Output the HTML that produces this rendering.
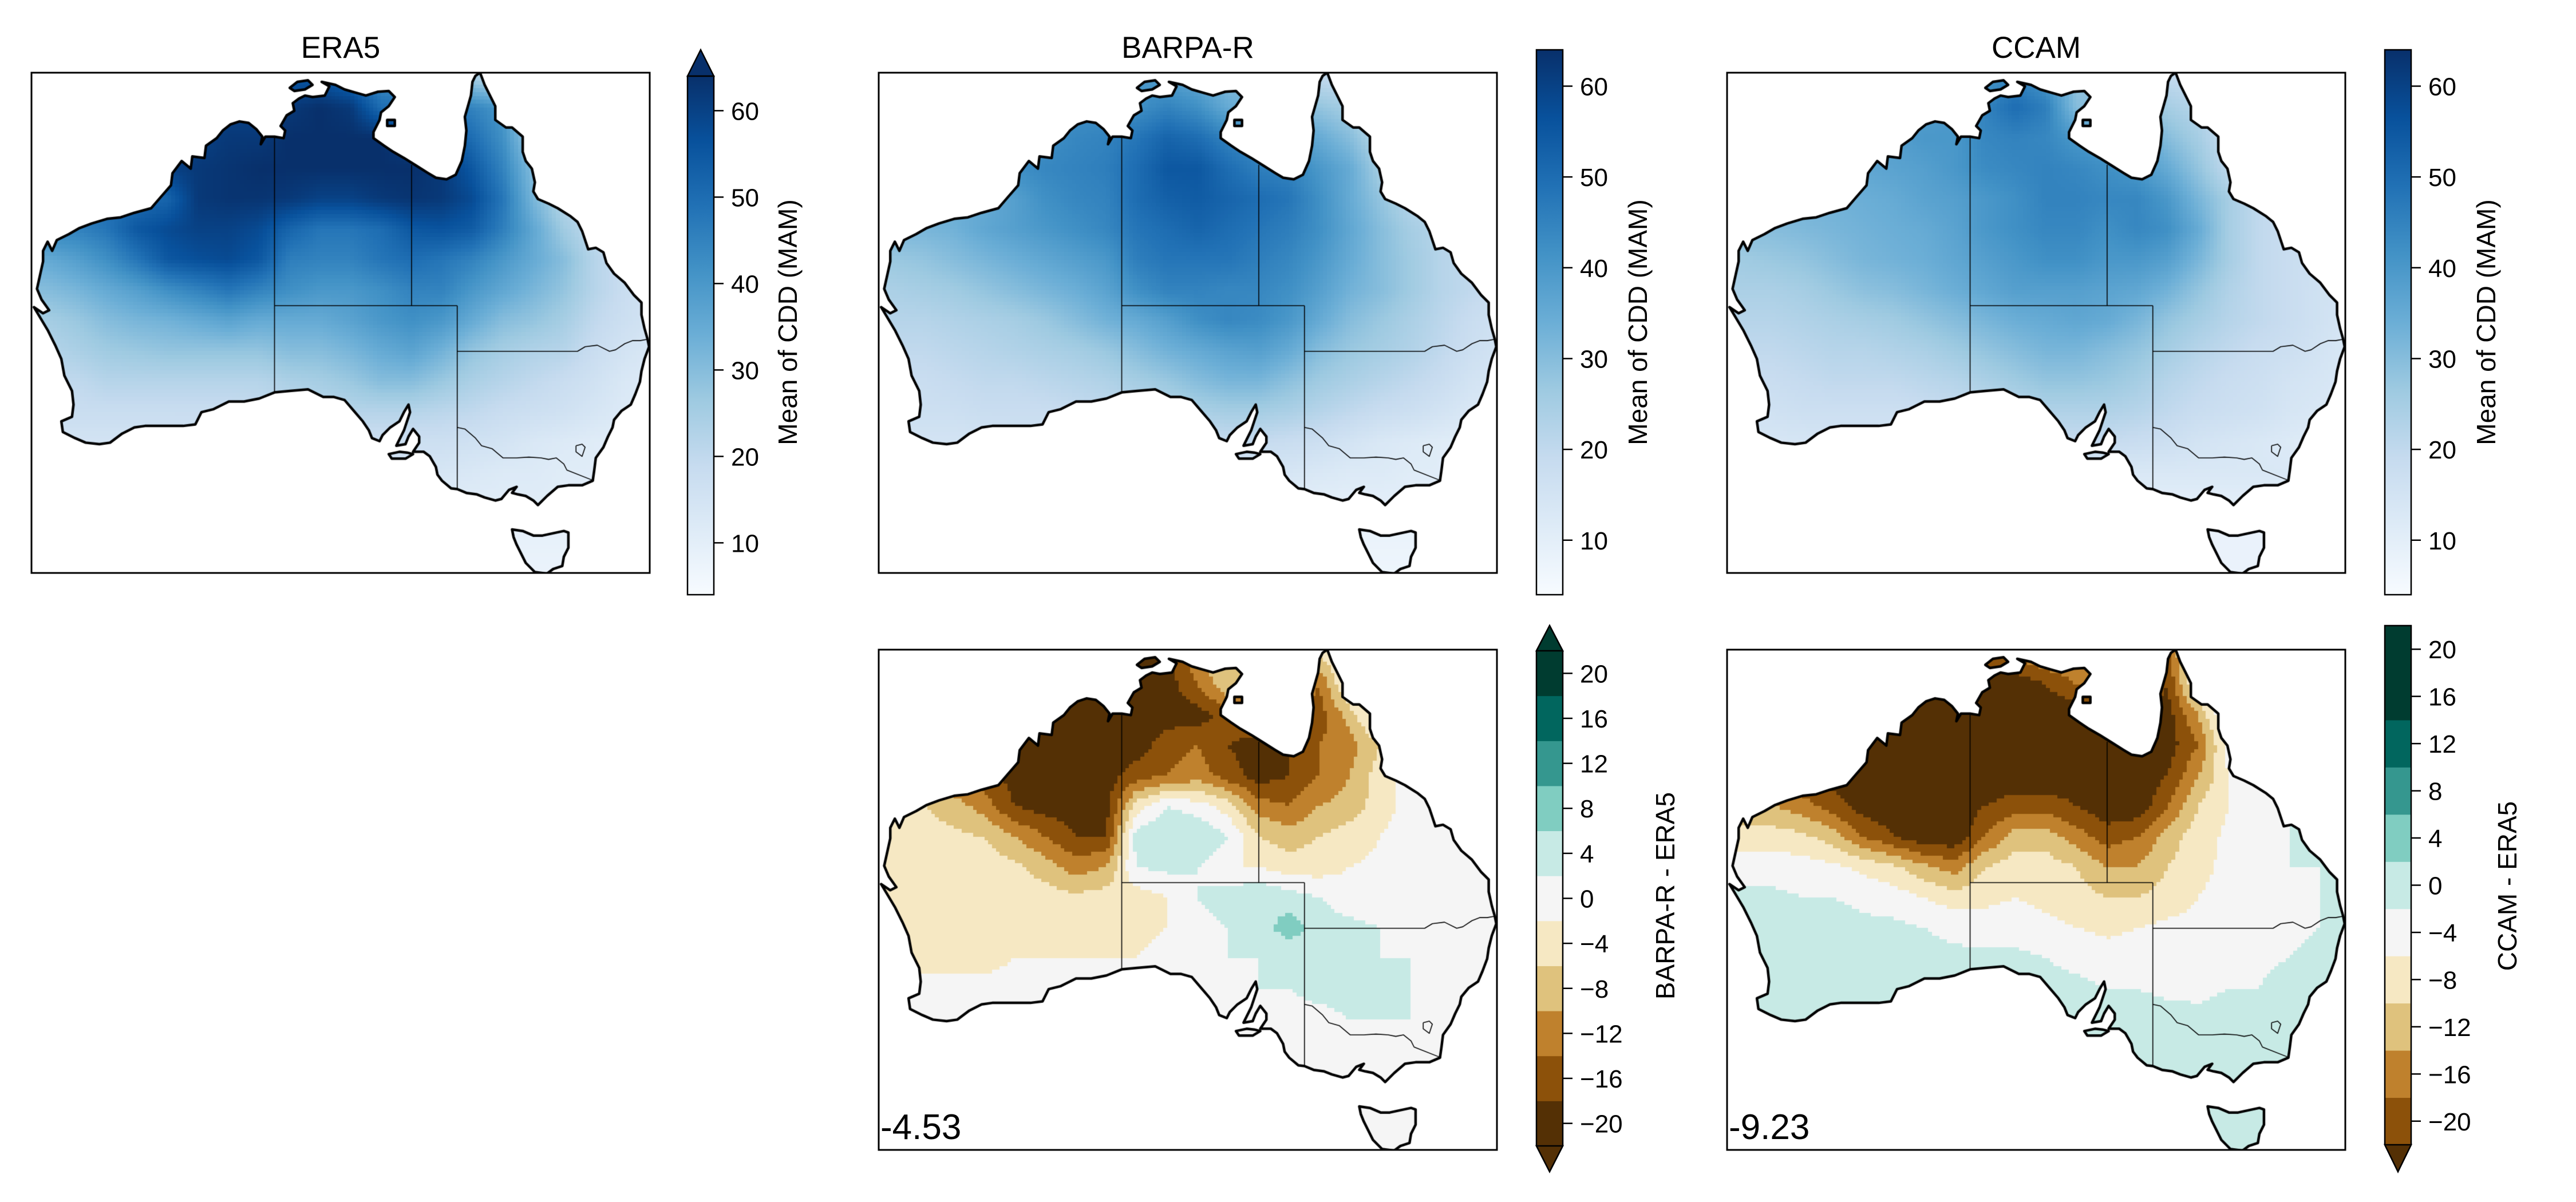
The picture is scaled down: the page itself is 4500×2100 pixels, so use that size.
<!DOCTYPE html>
<html><head><meta charset="utf-8">
<style>
html,body{margin:0;padding:0;background:#fff;}
#wrap{position:relative;width:4500px;height:2100px;overflow:hidden;font-family:"Liberation Sans","DejaVu Sans",sans-serif;}
canvas{position:absolute;}
svg{position:absolute;left:0;top:0;}
</style></head>
<body>
<div id="wrap">
<canvas id="c1" width="1080" height="874" style="left:55px;top:127px"></canvas>
<canvas id="c2" width="1080" height="874" style="left:1535px;top:127px"></canvas>
<canvas id="c3" width="1080" height="874" style="left:3017px;top:127px"></canvas>
<canvas id="c4" width="1080" height="874" style="left:1535px;top:1135px"></canvas>
<canvas id="c5" width="1080" height="874" style="left:3017px;top:1135px"></canvas>
<svg id="ov" width="4500" height="2100" viewBox="0 0 4500 2100">
<defs>
<linearGradient id="blues" x1="0" y1="1" x2="0" y2="0">
<stop offset="0" stop-color="#f7fbff"/><stop offset="0.125" stop-color="#deebf7"/><stop offset="0.25" stop-color="#c6dbef"/><stop offset="0.375" stop-color="#9ecae1"/><stop offset="0.5" stop-color="#6baed6"/><stop offset="0.625" stop-color="#4292c6"/><stop offset="0.75" stop-color="#2171b5"/><stop offset="0.875" stop-color="#08519c"/><stop offset="1" stop-color="#08306b"/>
</linearGradient>
</defs>
<g font-size="53" text-anchor="middle" fill="#000">
<text x="595" y="101">ERA5</text>
<text x="2075" y="101">BARPA-R</text>
<text x="3557" y="101">CCAM</text>
</g>
<g fill="none" stroke="#000" stroke-width="3">
<rect x="55" y="127" width="1080" height="874"/>
<rect x="1535" y="127" width="1080" height="874"/>
<rect x="3017" y="127" width="1080" height="874"/>
<rect x="1535" y="1135" width="1080" height="874"/>
<rect x="3017" y="1135" width="1080" height="874"/>
</g>
<g font-size="62" fill="#000">
<text x="1538" y="1990">-4.53</text>
<text x="3020" y="1990">-9.23</text>
</g>
<g font-size="46" text-anchor="middle" fill="#000">
<text transform="translate(1392,563) rotate(-90)">Mean of CDD (MAM)</text>
<text transform="translate(2877,563) rotate(-90)">Mean of CDD (MAM)</text>
<text transform="translate(4359,563) rotate(-90)">Mean of CDD (MAM)</text>
<text transform="translate(2925,1565) rotate(-90)">BARPA-R - ERA5</text>
<text transform="translate(4396,1548) rotate(-90)">CCAM - ERA5</text>
</g>
<g id="cbars"></g>
</svg>
</div>
<script>
// ---- grid definition (2 degree cells) ----
const lonCenters = [114,116,118,120,122,124,126,128,130,132,134,136,138,140,142,144,146,148,150,152,154];
const latCenters = [-11,-13,-15,-17,-19,-21,-23,-25,-27,-29,-31,-33,-35,-37,-39,-41,-43];
function fill(v){return Array(21).fill(v);}
const era5Grid = [
[60,60,60,60,60,60,60,60,55,55,50,42,40,40,25,18,18,18,18,18,18],
[60,60,60,60,60,60,60,60,62,64,62,50,48,45,45,40,22,18,18,18,18],
[60,60,60,60,60,60,62,62,64,64,64,64,60,55,50,42,25,18,18,18,18],
[55,55,55,55,60,62,63,64,64,64,64,64,64,62,55,45,30,20,18,18,18],
[50,50,50,50,52,62,63,63,62,60,60,62,63,62,58,48,32,22,18,18,18],
[45,45,48,55,58,60,60,58,52,48,48,50,55,56,54,46,36,26,20,18,18],
[35,38,42,48,55,57,58,55,46,45,45,48,50,48,45,40,35,30,22,18,16],
[30,32,35,38,42,45,48,45,42,40,40,42,45,45,40,36,32,28,22,18,15],
[25,27,30,32,33,35,37,35,35,35,37,40,42,40,35,30,28,25,20,17,15],
[22,24,26,27,28,28,28,28,30,30,32,35,37,33,28,25,23,22,18,15,13],
[20,20,22,22,22,22,22,22,24,25,27,30,30,27,24,22,20,18,16,13,12],
[18,18,18,18,18,18,18,19,20,21,22,22,22,21,20,18,17,16,14,12,12],
[15,15,15,15,15,16,16,17,17,17,17,17,17,17,16,15,13,12,11,11,11],
[13,13,13,13,13,13,13,13,14,14,14,14,14,14,13,12,12,11,11,11,11],
fill(11),fill(9),fill(8)];
const barpaGrid = [
[40,40,40,40,40,40,40,40,40,38,35,30,30,28,20,18,18,18,18,18,18],
[42,42,42,42,42,42,42,42,42,45,42,35,33,30,28,25,18,18,18,18,18],
[42,42,42,42,42,42,44,45,48,52,50,45,42,40,35,30,22,18,18,18,18],
[38,38,38,38,42,44,45,46,50,55,55,50,46,45,40,35,25,20,18,18,18],
[35,35,35,35,38,42,44,45,50,53,54,52,50,48,42,35,28,22,20,18,18],
[32,32,33,36,38,40,42,44,48,50,52,50,48,46,42,36,30,25,22,20,18],
[27,28,30,32,34,36,38,40,46,48,48,48,46,44,40,35,30,26,22,20,18],
[24,25,26,28,30,32,34,37,42,45,45,44,44,42,38,33,30,26,22,20,18],
[22,22,23,24,25,27,30,33,35,38,42,44,43,40,35,30,27,24,21,18,16],
[20,20,21,22,23,24,25,27,30,33,35,37,38,35,30,27,25,23,20,17,15],
[18,18,19,20,20,21,22,23,25,27,30,32,32,29,26,24,22,20,18,15,14],
[17,17,17,18,18,18,19,20,21,22,24,25,25,24,22,20,18,17,15,13,12],
[15,15,15,15,16,16,16,17,17,18,18,19,19,18,17,15,13,12,11,11,11],
[13,13,13,13,13,13,13,13,13,13,13,13,14,14,13,12,12,11,11,11,11],
fill(10),fill(8),fill(7)];
const ccamGrid = [
[35,35,35,35,35,35,35,35,40,45,40,28,25,25,20,18,18,18,18,18,18],
[38,38,38,38,38,38,38,40,45,50,46,30,30,30,25,22,18,18,18,18,18],
[38,38,38,38,38,38,40,40,44,45,44,40,38,38,30,25,18,18,18,18,18],
[35,35,35,35,36,37,38,40,43,44,45,44,42,40,35,28,20,18,18,18,18],
[33,33,33,33,34,35,37,38,40,42,45,45,44,44,40,32,25,20,18,18,18],
[30,30,31,32,33,34,35,37,40,42,44,44,42,44,42,35,25,20,18,18,18],
[26,27,28,30,32,33,34,36,38,40,42,42,40,40,38,32,25,20,18,17,16],
[24,24,25,27,29,30,32,34,36,38,38,38,37,36,33,28,23,20,18,16,15],
[22,22,23,24,25,26,28,30,32,34,35,36,35,32,28,25,22,20,18,16,14],
[20,20,21,22,22,23,24,26,28,30,32,32,30,28,25,22,20,18,17,15,13],
[18,18,19,20,20,20,21,22,24,26,28,28,27,25,22,20,18,17,15,14,13],
[16,16,17,17,17,17,18,19,20,21,23,23,23,22,20,18,17,16,14,13,12],
[14,14,14,15,15,15,16,16,17,17,18,19,19,18,17,15,14,13,12,11,11],
fill(13),fill(10),fill(8),fill(8)];
const barpaDiffGrid = [
[-20,-20,-20,-20,-20,-20,-20,-20,-20,-20,-10,-6,-6,-8,-6,2,2,0,0,0,0],
[-20,-20,-20,-20,-20,-20,-20,-20,-20,-20,-14,-6,-8,-10,-14,0,2,0,0,0,0],
[-20,-20,-20,-20,-20,-20,-20,-20,-20,-20,-20,-16,-12,-12,-16,-8,2,0,0,0,0],
[-20,-20,-20,-20,-20,-20,-20,-20,-20,-16,-14,-18,-20,-18,-14,-12,-6,0,0,0,0],
[-12,-12,-14,-16,-20,-20,-20,-20,-16,-14,-12,-16,-20,-18,-14,-10,-4,0,0,0,0],
[-6,-6,-8,-12,-18,-20,-20,-20,-4,2,0,-4,-12,-14,-10,-8,-4,0,0,0,0],
[-4,-4,-5,-6,-10,-14,-18,-18,4,6,6,2,-6,-8,-6,-4,-2,0,0,0,0],
[-4,-4,-4,-4,-5,-8,-12,-10,2,3,2,-2,-2,-4,-4,-2,-1,0,0,0,0],
[-4,-4,-4,-4,-4,-4,-5,-4,-4,-2,2,4,6,4,2,0,0,0,0,0,0],
[-3,-3,-3,-3,-3,-3,-3,-3,-3,-2,0,2,4,8,4,3,2,0,0,0,0],
[-2,-3,-3,-3,-2,-2,-2,-2,-2,-1,0,2,2,3,3,3,2,2,0,0,0],
[-1,-1,-1,-1,-1,-1,-1,-1,-1,0,0,1,2,2,3,3,3,2,1,0,0],
[0,0,0,0,0,0,0,0,0,0,0,0,0,1,1,2,2,2,1,0,0],
fill(0),fill(0),fill(0),fill(0)];
const ccamDiffGrid = [
[-25,-25,-25,-25,-25,-25,-25,-25,-20,-16,-14,-12,-12,-12,-20,0,0,-2,-2,-2,-2],
[-25,-25,-25,-25,-25,-25,-25,-25,-25,-25,-22,-18,-16,-16,-22,-4,0,-2,-2,-2,-2],
[-25,-25,-25,-25,-25,-25,-25,-25,-25,-25,-25,-25,-25,-25,-24,-14,0,-2,-2,-2,-2],
[-25,-25,-25,-25,-25,-25,-25,-25,-25,-25,-25,-25,-25,-25,-24,-18,-4,-2,-2,-2,-2],
[-20,-20,-22,-24,-25,-25,-25,-25,-25,-25,-25,-24,-25,-25,-22,-14,-6,-2,-2,-2,-2],
[-14,-14,-16,-20,-24,-25,-25,-25,-22,-20,-20,-22,-25,-25,-18,-10,-6,-3,-2,-2,-2],
[-8,-8,-9,-12,-18,-22,-25,-25,-18,-12,-12,-16,-20,-18,-12,-8,-5,-3,-2,-2,-2],
[-4,-4,-4,-5,-7,-9,-13,-16,-10,-8,-8,-10,-14,-14,-10,-7,-5,-3,-2,-2,-2],
[-1,-1,-2,-2,-3,-4,-6,-8,-7,-6,-7,-8,-10,-10,-8,-6,-5,-4,-3,-2,-2],
[0,0,0,0,-1,-1,-2,-3,-4,-4,-5,-6,-7,-6,-5,-5,-4,-4,-3,-2,-2],
[0,0,0,0,0,0,-1,-1,-1,-1,-2,-3,-4,-4,-4,-4,-4,-3,-2,-1,-1],
[0,0,0,0,0,0,0,0,0,-1,-1,-1,-2,-2,-3,-3,-2,-2,0,0,0],
[0,0,0,0,0,0,0,0,0,0,0,0,0,0,0,-1,0,0,0,0,0],
fill(0),fill(0),fill(0),fill(0)];

// ---- colorbar tick labels ----
const seqTicks = [10,20,30,40,50,60];
const diffTicks = [-20,-16,-12,-8,-4,0,4,8,12,16,20];
const brbgColors = ["#543005","#8c510a","#bf812d","#dfc27d","#f6e8c3","#f5f5f5","#c7eae5","#80cdc1","#35978f","#01665e","#003c30"];
const barpaBounds = [-22,-18,-14,-10,-6,-2,2,6,10,14,18,22];
const ccamBands = [[-22,-18,"#8c510a"],[-18,-14,"#bf812d"],[-14,-10,"#dfc27d"],[-10,-6,"#f6e8c3"],[-6,-2,"#f5f5f5"],[-2,2,"#c7eae5"],[2,6,"#80cdc1"],[6,10,"#35978f"],[10,14,"#01665e"],[14,22,"#003c30"]];

// ---- geography ----
const mainland = [[142.5,-10.7],[142.8,-11.5],[143.2,-12.3],[143.5,-12.9],[143.5,-13.8],[144.2,-14.3],[144.6,-14.3],[145.3,-14.9],[145.3,-15.9],[145.5,-16.5],[145.9,-17.0],[146.1,-17.9],[146.0,-18.5],[146.3,-19.0],[147.0,-19.3],[147.6,-19.6],[148.4,-20.1],[148.9,-20.5],[149.2,-21.1],[149.6,-22.3],[150.1,-22.2],[150.6,-22.5],[150.8,-23.2],[151.3,-23.9],[152.0,-24.5],[152.6,-25.3],[153.1,-25.8],[153.1,-26.6],[153.3,-27.5],[153.5,-28.2],[153.6,-28.7],[153.3,-29.5],[153.1,-30.3],[153.0,-31.0],[152.7,-31.8],[152.4,-32.5],[151.8,-32.9],[151.3,-33.5],[151.2,-34.0],[150.9,-34.6],[150.6,-35.3],[150.1,-36.0],[150.0,-36.8],[149.9,-37.5],[149.2,-37.8],[148.3,-37.8],[147.6,-37.9],[146.9,-38.5],[146.3,-39.1],[146.0,-38.8],[145.5,-38.5],[145.0,-38.4],[144.6,-38.3],[144.9,-37.9],[144.4,-38.1],[143.9,-38.7],[143.5,-38.8],[142.8,-38.6],[142.3,-38.4],[141.6,-38.3],[141.0,-38.05],[140.6,-38.0],[140.0,-37.5],[139.7,-37.1],[139.6,-36.6],[139.2,-35.9],[138.8,-35.6],[138.1,-35.6],[138.5,-35.0],[138.5,-34.6],[138.1,-34.1],[137.8,-34.6],[137.6,-35.1],[137.0,-35.2],[137.5,-34.2],[137.7,-33.6],[137.9,-33.0],[137.8,-32.5],[137.5,-33.0],[137.2,-33.6],[136.6,-34.0],[136.1,-34.5],[135.9,-34.9],[135.4,-34.7],[135.2,-34.2],[134.8,-33.6],[134.2,-32.9],[133.6,-32.2],[132.9,-32.0],[132.2,-32.0],[131.2,-31.5],[130.0,-31.6],[129.0,-31.7],[128.0,-32.1],[127.0,-32.3],[126.0,-32.3],[125.0,-32.8],[124.2,-33.0],[123.8,-33.8],[123.0,-33.9],[122.0,-33.9],[120.5,-33.9],[119.8,-34.0],[119.0,-34.4],[118.2,-35.0],[117.5,-35.1],[116.6,-35.0],[115.9,-34.7],[115.1,-34.3],[115.0,-33.6],[115.7,-33.3],[115.8,-32.5],[115.7,-31.6],[115.2,-30.6],[115.0,-29.5],[114.6,-28.6],[114.1,-27.6],[113.5,-26.6],[113.2,-26.1],[113.8,-26.5],[114.2,-26.3],[113.7,-25.6],[113.4,-24.9],[113.6,-24.0],[113.8,-23.1],[113.8,-22.4],[114.1,-21.8],[114.4,-22.4],[114.7,-21.7],[115.5,-21.3],[116.2,-20.9],[117.0,-20.6],[118.0,-20.3],[118.9,-20.2],[119.8,-19.9],[120.9,-19.6],[121.5,-18.9],[122.2,-18.1],[122.3,-17.3],[122.9,-16.5],[123.5,-17.0],[123.6,-16.2],[124.4,-16.3],[124.5,-15.5],[125.2,-15.0],[125.6,-14.5],[126.1,-14.1],[126.7,-13.9],[127.3,-14.0],[127.8,-14.4],[128.2,-14.9],[128.1,-15.4],[128.4,-14.9],[129.0,-14.9],[129.6,-15.0],[129.7,-14.5],[129.4,-14.2],[129.8,-13.5],[130.3,-13.2],[130.2,-12.7],[130.6,-12.4],[131.0,-12.2],[131.5,-12.3],[132.3,-12.2],[132.6,-11.6],[132.1,-11.3],[133.0,-11.5],[133.6,-11.8],[134.3,-12.0],[135.0,-12.2],[135.8,-11.95],[136.5,-11.9],[136.9,-12.3],[136.5,-12.9],[136.0,-13.3],[135.9,-13.8],[135.5,-14.6],[135.5,-15.0],[136.2,-15.5],[136.8,-15.9],[137.5,-16.3],[138.3,-16.8],[139.1,-17.3],[139.6,-17.6],[140.3,-17.7],[140.9,-17.4],[141.3,-16.5],[141.5,-15.5],[141.6,-14.5],[141.5,-13.6],[141.7,-12.9],[141.9,-12.2],[142.0,-11.3],[142.2,-10.9]];
const tasmania = [[144.6,-40.7],[145.3,-40.8],[146.0,-41.1],[146.6,-41.1],[147.3,-40.95],[148.0,-40.8],[148.3,-40.9],[148.3,-41.9],[148.0,-42.5],[147.9,-43.1],[147.3,-43.3],[146.9,-43.6],[146.1,-43.5],[145.5,-42.9],[145.2,-42.3],[144.9,-41.7],[144.7,-41.2]];
const kangaroo = [[136.5,-35.75],[137.2,-35.6],[137.7,-35.65],[138.1,-35.75],[137.6,-36.05],[136.7,-36.05]];
const melville = [[130.0,-11.7],[130.5,-11.3],[131.2,-11.2],[131.5,-11.5],[131.0,-11.8],[130.3,-11.9]];
const groote = [[136.4,-13.8],[136.9,-13.8],[136.9,-14.2],[136.4,-14.2]];
const lands = [mainland,tasmania,kangaroo,melville,groote];
const borders = [
[[129,-14.9],[129,-31.7]],
[[129,-26],[138,-26]],
[[138,-16.75],[138,-26]],
[[138,-26],[141,-26]],
[[141,-26],[141,-38.05]],
[[141,-29],[148.9,-29],[149.4,-28.7],[150.2,-28.6],[151.0,-29.0],[151.4,-28.9],[152.0,-28.5],[152.5,-28.3],[153.0,-28.3],[153.55,-28.2]],
[[141,-34],[141.5,-34.1],[142.2,-34.7],[142.6,-35.2],[143.3,-35.4],[144.0,-36.0],[144.9,-36.0],[145.7,-35.95],[146.5,-36.0],[147.0,-36.1],[147.5,-36.0],[148.0,-36.4],[148.2,-36.8],[149.97,-37.5]],
[[148.8,-35.2],[149.2,-35.1],[149.4,-35.3],[149.2,-35.9],[148.8,-35.6],[148.8,-35.2]]];

// ---- axis functions ----
const LON0 = 113.04, LAT0 = -10.70, PX = 26.6;
function xs(lon){return (lon-LON0)*PX;}
function ys(lat){return (LAT0-lat)*PX;}
function sample(g, lon, lat){
  let fi=(lon-lonCenters[0])/2, fj=(latCenters[0]-lat)/2;
  fi=Math.max(0,Math.min(lonCenters.length-1.0001,fi)); fj=Math.max(0,Math.min(latCenters.length-1.0001,fj));
  const i=Math.floor(fi), j=Math.floor(fj), a=fi-i, b=fj-j;
  return g[j][i]*(1-a)*(1-b)+g[j][i+1]*a*(1-b)+g[j+1][i]*(1-a)*b+g[j+1][i+1]*a*b;
}
const bluesStops=["#f7fbff","#deebf7","#c6dbef","#9ecae1","#6baed6","#4292c6","#2171b5","#08519c","#08306b"].map(h=>[parseInt(h.substr(1,2),16),parseInt(h.substr(3,2),16),parseInt(h.substr(5,2),16)]);
function blues(v){
  let t=(v-4)/60; t=Math.max(0,Math.min(1,t)); const f=t*8, k=Math.min(7,Math.floor(f)), r=f-k;
  const c=bluesStops[k].map((x,n)=>Math.round(x+(bluesStops[k+1][n]-x)*r));
  return "rgb("+c.join(",")+")";
}
function barpaColor(v){
  if(v<barpaBounds[0]) return brbgColors[0];
  for(let k=0;k<11;k++){ if(v<barpaBounds[k+1]) return brbgColors[k]; }
  return brbgColors[10];
}
function ccamColor(v){
  if(v<-22) return "#543005";
  for(const b of ccamBands){ if(v<b[1]) return b[2]; }
  return "#003c30";
}
function drawMap(id, grid, colorFn){
  const ctx=document.getElementById(id).getContext('2d');
  ctx.save();
  ctx.beginPath();
  for(const poly of lands){ poly.forEach((p,k)=>{ if(k===0) ctx.moveTo(xs(p[0]),ys(p[1])); else ctx.lineTo(xs(p[0]),ys(p[1])); }); ctx.closePath(); }
  ctx.clip();
  const step=0.25;
  for(let lat=-10.5;lat>-44;lat-=step){
    for(let lon=113;lon<154.2;lon+=step){
      ctx.fillStyle=colorFn(sample(grid,lon+step/2,lat-step/2));
      ctx.fillRect(Math.floor(xs(lon)),Math.floor(ys(lat)),Math.ceil(step*PX)+1,Math.ceil(step*PX)+1);
    }
  }
  ctx.restore();
  ctx.strokeStyle="#000"; ctx.lineJoin="round";
  ctx.lineWidth=1.6;
  for(const line of borders){ ctx.beginPath(); line.forEach((p,k)=>{ if(k===0) ctx.moveTo(xs(p[0]),ys(p[1])); else ctx.lineTo(xs(p[0]),ys(p[1])); }); ctx.stroke(); }
  ctx.lineWidth=4.5;
  for(const poly of lands){ ctx.beginPath(); poly.forEach((p,k)=>{ if(k===0) ctx.moveTo(xs(p[0]),ys(p[1])); else ctx.lineTo(xs(p[0]),ys(p[1])); }); ctx.closePath(); ctx.stroke(); }
}
drawMap('c1',era5Grid,blues);
drawMap('c2',barpaGrid,blues);
drawMap('c3',ccamGrid,blues);
drawMap('c4',barpaDiffGrid,barpaColor);
drawMap('c5',ccamDiffGrid,ccamColor);

// ---- colorbars ----
const NS="http://www.w3.org/2000/svg";
const cb=document.getElementById('cbars');
function mk(tag,attrs){const e=document.createElementNS(NS,tag);for(const k in attrs)e.setAttribute(k,attrs[k]);cb.appendChild(e);return e;}
function tick(x,y,label,prefix){
  const l=mk('line',{x1:x,y1:y,x2:x+17,y2:y,stroke:'#000','stroke-width':2.5});
  
  
  const t=mk('text',{x:x+30,y:y+16,'font-size':44,fill:'#000'});
  t.textContent=label;
  
  
}
function seqBar(x,top,bottom,arrowTip,prefix){
  const w=46;
  if(arrowTip!==null){
    const a=mk('polygon',{points:`${x},${top} ${x+w/2},${arrowTip} ${x+w},${top}`,fill:'#08306b',stroke:'#000','stroke-width':2.5});
    
    
  }
  const r=mk('rect',{x:x,y:top,width:w,height:bottom-top,fill:'url(#blues)',stroke:'#000','stroke-width':2.5});
  
  
  const vmin=4,vmax=64;
  for(const v of seqTicks){ tick(x+w, bottom-(v-vmin)*(bottom-top)/(vmax-vmin), String(v), prefix); }
}
seqBar(1201,133,1039,87,'era5');
seqBar(2684,87,1039,null,'barpa');
seqBar(4166,87,1039,null,'ccam');

function fmt(v){return v<0?'\u2212'+Math.abs(v):String(v);}
(function(){
  const x=2684,w=46,top=1137,bottom=2002; const Y=v=>top+(22-v)*(bottom-top)/44;
  for(let k=0;k<11;k++){
    const r=mk('rect',{x:x,y:Y(barpaBounds[k+1]),width:w,height:Y(barpaBounds[k])-Y(barpaBounds[k+1])+0.5,fill:brbgColors[k]});
    
    
  }
  const o=mk('polygon',{points:`${x},${top} ${x+w/2},1093 ${x+w},${top} ${x+w},${bottom} ${x+w/2},2047 ${x},${bottom}`,fill:'none',stroke:'#000','stroke-width':2.5});
  
  
  const t1=mk('polygon',{points:`${x},${top} ${x+w/2},1093 ${x+w},${top}`,fill:'#003c30',stroke:'#000','stroke-width':2.5});
  
  
  const t2=mk('polygon',{points:`${x},${bottom} ${x+w/2},2047 ${x+w},${bottom}`,fill:'#543005',stroke:'#000','stroke-width':2.5});
  
  
  for(const v of diffTicks) tick(x+w,Y(v),fmt(v),'barpa-diff');
})();
(function(){
  const x=4166,w=46,top=1093,bottom=2000; const Y=v=>top+(22-v)*(bottom-top)/44;
  for(const b of ccamBands){
    const r=mk('rect',{x:x,y:Y(b[1]),width:w,height:Y(b[0])-Y(b[1])+0.5,fill:b[2]});
    
    
  }
  const o=mk('polygon',{points:`${x},${top} ${x+w},${top} ${x+w},${bottom} ${x+w/2},2047 ${x},${bottom}`,fill:'none',stroke:'#000','stroke-width':2.5});
  
  
  const t2=mk('polygon',{points:`${x},${bottom} ${x+w/2},2047 ${x+w},${bottom}`,fill:'#543005',stroke:'#000','stroke-width':2.5});
  
  
  for(const v of diffTicks) tick(x+w,Y(v),fmt(v),'ccam-diff');
})();
</script>
</body></html>
